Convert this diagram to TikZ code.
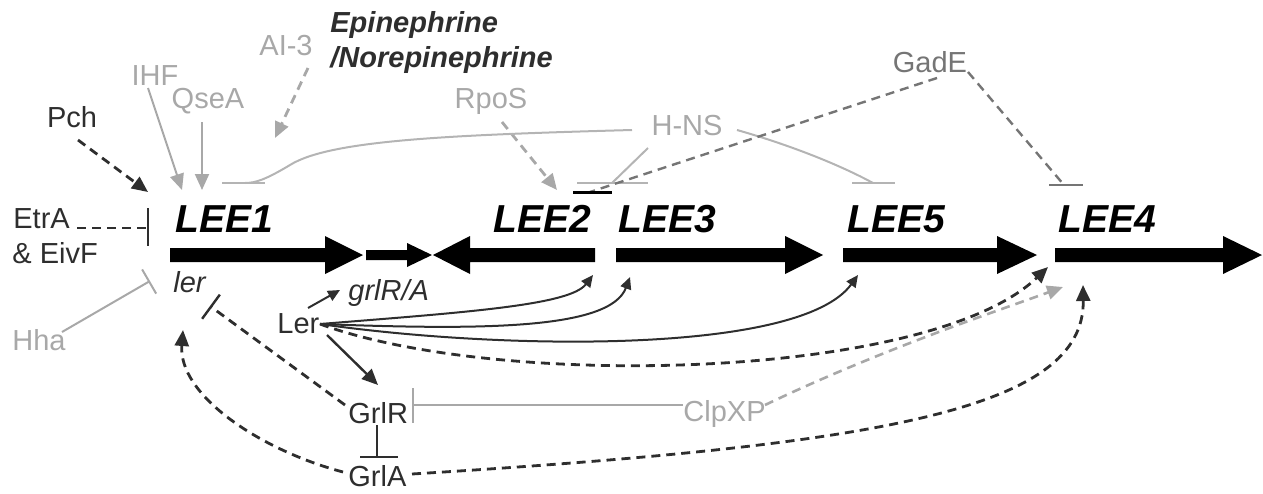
\documentclass[tikz,border=0pt]{standalone}
\usepackage{fontspec}
\setmainfont{Liberation Sans}
\usetikzlibrary{arrows.meta,calc}
\definecolor{lg}{HTML}{A8A8A8}
\definecolor{hg}{HTML}{B4B4B4}
\definecolor{mg}{HTML}{757575}
\definecolor{dk}{HTML}{2E2E2E}
\begin{document}
\begin{tikzpicture}[x=0.5pt,y=-0.5pt,
  lab/.style={font=\fontsize{14.5}{17}\selectfont, inner sep=0pt, anchor=base west},
  genelab/.style={font=\fontsize{19.5}{22}\selectfont\bfseries\itshape, inner sep=0pt, anchor=base west, text=black},
  act/.style={-{Triangle[length=8pt,width=7pt]}},
  smallact/.style={-{Triangle[length=6pt,width=5.5pt]}},
  dsh/.style={dash pattern=on 4.5pt off 3pt},
  blkdash/.style={dk, line width=1.4pt, dsh},
  gryline/.style={lg, line width=1pt},
  genearrow/.style={fill=black}
]
\useasboundingbox (0,0) rectangle (1263,493);

% ---- gene arrows ----
\fill[genearrow] (170,248) -- (325,248) -- (325,236) -- (363,255) -- (325,274) -- (325,262) -- (170,262) -- cycle;
\fill[genearrow] (366,250) -- (407,250) -- (407,243) -- (432,255) -- (407,267) -- (407,260) -- (366,260) -- cycle;
\fill[genearrow] (595,248) -- (470,248) -- (470,236) -- (433,255) -- (470,274) -- (470,262) -- (595,262) -- cycle;
\fill[genearrow] (616,248) -- (785,248) -- (785,236) -- (823,255) -- (785,274) -- (785,262) -- (616,262) -- cycle;
\fill[genearrow] (843,248) -- (997,248) -- (997,236) -- (1037,255) -- (997,274) -- (997,262) -- (843,262) -- cycle;
\fill[genearrow] (1055,248) -- (1223,248) -- (1223,236) -- (1262,255) -- (1223,274) -- (1223,262) -- (1055,262) -- cycle;

% ---- gene labels ----
\node[genelab] (lee1) at (175,232) {LEE1};
\node[genelab] (lee2) at (493,232) {LEE2};
\node[genelab] (lee3) at (618,232) {LEE3};
\node[genelab] (lee5) at (847,232) {LEE5};
\node[genelab] (lee4) at (1058,232) {LEE4};

% ---- regulator labels ----
\node[lab, text=dk, anchor=base] (pch) at (72,127) {Pch};
\node[lab, text=lg, anchor=base] (ihf) at (155,85) {IHF};
\node[lab, text=lg, anchor=base] (qsea) at (208,108) {QseA};
\node[lab, text=lg, anchor=base] (ai3) at (286,55) {AI-3};
\node[font=\fontsize{14.5}{17.5}\selectfont\bfseries\itshape, text=dk, inner sep=0pt, anchor=base west] (epi) at (330,32) {Epinephrine};
\node[font=\fontsize{14.5}{17.5}\selectfont\bfseries\itshape, text=dk, inner sep=0pt, anchor=base west] (norepi) at (330,67) {/Norepinephrine};
\node[lab, text=lg, anchor=base] (rpos) at (491,108) {RpoS};
\node[lab, text=lg, anchor=base] (hns) at (687,135) {H-NS};
\node[lab, text=mg, anchor=base] (gade) at (930,72) {GadE};
\node[lab, text=dk] (etra) at (13,228) {EtrA};
\node[lab, text=dk] (eivf) at (12,263) {\& EivF};
\node[lab, text=lg] (hha) at (12,350) {Hha};
\node[lab, text=dk, font=\fontsize{14.5}{17}\selectfont\itshape] (lergene) at (173,292) {ler};
\node[lab, text=dk, font=\fontsize{14.5}{17}\selectfont\itshape] (grlra) at (348,300) {grlR/A};
\node[lab, text=dk] (ler) at (277,333) {Ler};
\node[lab, text=dk] (grlr) at (348,423) {GrlR};
\node[lab, text=dk] (grla) at (348,486) {GrlA};
\node[lab, text=lg] (clpxp) at (683,421) {ClpXP};

% ---- coordinates for connector ends ----
\coordinate (pchT) at (78,140);   \coordinate (lee1P) at (148,192);
\coordinate (ihfT) at (148,88);   \coordinate (lee1I) at (182,190);
\coordinate (qseT) at (202,122);  \coordinate (lee1Q) at (202,190);
\coordinate (aiT) at (308,68);    \coordinate (aiH) at (275,138);
\coordinate (rpoT) at (502,122);  \coordinate (lee2R) at (557,190);
\coordinate (hnsL) at (632,130);  \coordinate (hnsB) at (648,148); \coordinate (hnsR) at (737,130);
\coordinate (bar1) at (245,183);  \coordinate (bar23) at (612,183); \coordinate (bar5) at (873,183);
\coordinate (gadeL) at (937,78);  \coordinate (gadeR) at (968,72);
\coordinate (bar23g) at (590,192); \coordinate (bar4) at (1064,185);
\coordinate (etraR) at (77,228);  \coordinate (etraB) at (148,228);
\coordinate (hhaR) at (62,332);   \coordinate (hhaB) at (150,281);
\coordinate (grlrL) at (345,405); \coordinate (lerB) at (210,306);
\coordinate (grlaL) at (343,472); \coordinate (lerH) at (183,330);
\coordinate (lerA) at (308,308);  \coordinate (grlraH) at (340,290);
\coordinate (lerB2) at (327,335); \coordinate (grlrH) at (378,385);
\coordinate (lerR) at (320,324);
\coordinate (lee2H) at (593,275); \coordinate (lee3H) at (630,277);
\coordinate (lee5H) at (858,275); \coordinate (lee4H) at (1048,267);
\coordinate (clpR) at (765,405);  \coordinate (lee4C) at (1063,287);
\coordinate (grlaR) at (412,474); \coordinate (lee4G) at (1083,285);
\coordinate (clpL) at (683,405);  \coordinate (grlrB) at (413,405);
\coordinate (grlrS) at (377,425); \coordinate (grlaB) at (377,457);

% ---- activators ----
\draw[blkdash, act] (pchT) -- (lee1P);
\draw[gryline, act] (ihfT) -- (lee1I);
\draw[gryline, act] (qseT) -- (lee1Q);
\draw[lg, line width=1.4pt, dsh, act] (aiT) -- (aiH);
\draw[lg, line width=1.4pt, dsh, act] (rpoT) -- (lee2R);

% ---- H-NS repression ----
\draw[hg, line width=1pt] (hnsL) .. controls (450,135) and (330,140) .. (290,165) .. controls (265,180) and (255,183) .. (bar1);
\draw[hg, line width=1.2pt] ($(bar1)+(-23,0)$) -- ($(bar1)+(20,0)$);
\draw[hg, line width=1pt] (hnsB) -- (bar23);
\draw[hg, line width=1.2pt] (577,183) -- (648,183);
\draw[hg, line width=1pt] (hnsR) .. controls (790,145) and (840,165) .. (bar5);
\draw[hg, line width=1.2pt] ($(bar5)+(-21,0)$) -- ($(bar5)+(22,0)$);

% ---- GadE repression ----
\draw[mg, line width=1.2pt, dsh] (gadeL) -- (bar23g);
\draw[black, line width=1.5pt] (573,192) -- (612,192);
\draw[mg, line width=1.2pt, dsh] (gadeR) -- (bar4);
\draw[mg, line width=1.2pt] ($(bar4)+(-15,0)$) -- ($(bar4)+(19,0)$);

% ---- EtrA/EivF and Hha ----
\draw[blkdash] (etraR) -- (etraB);
\draw[dk, line width=1.2pt] (148,208) -- (148,246);
\draw[gryline, -{Bar[width=14pt, line width=1pt]}] (hhaR) -- (hhaB);

% ---- Ler / GrlR / GrlA ----
\draw[blkdash, -{Bar[width=15pt, line width=1.2pt]}] (grlrL) -- (lerB);
\draw[blkdash, act] (grlaL) .. controls (260,450) and (178,395) .. (lerH);
\draw[dk, line width=1pt, smallact] (lerA) -- (grlraH);
\draw[dk, line width=1.2pt, act] (lerB2) -- (grlrH);
\draw[dk, line width=1pt, smallact] (lerR) .. controls (470,312) and (570,305) .. (lee2H);
\draw[dk, line width=1pt, smallact] (lerR) .. controls (480,330) and (610,330) .. (lee3H);
\draw[dk, line width=1pt, smallact] (lerR) .. controls (500,350) and (800,355) .. (lee5H);
\draw[blkdash, act] (lerR) .. controls (500,390) and (930,380) .. (lee4H);
\draw[lg, line width=1.3pt, dsh, act] (clpR) .. controls (880,350) and (1000,310) .. (lee4C);
\draw[blkdash, act] (grlaR) .. controls (880,445) and (1085,410) .. (lee4G);
\draw[gryline] (clpL) -- (grlrB);
\draw[lg, line width=1.2pt] (413,388) -- (413,423);
\draw[dk, line width=1.2pt] (grlrS) -- (grlaB);
\draw[dk, line width=1.4pt] (360,457) -- (398,457);
\end{tikzpicture}
\end{document}
